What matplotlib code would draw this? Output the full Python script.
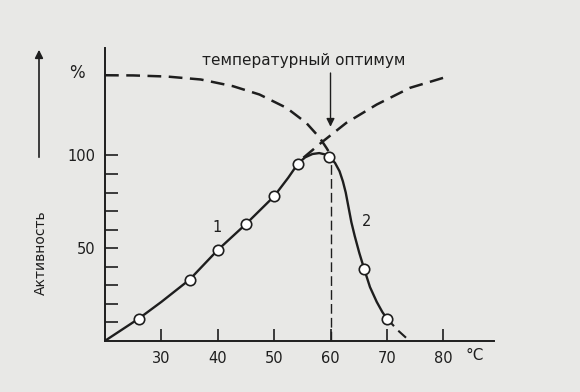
import matplotlib
matplotlib.use("Agg")
import matplotlib.pyplot as plt

# measured points (temperature, activity)
point_t = [26, 35, 40, 45, 50, 54.2, 59.8, 66, 70]
point_a = [12, 33, 49, 63, 78, 95.5, 99.2, 38.5, 12]

# solid activity curve
curve_t = [20, 26, 30, 35, 40, 45, 50, 52.5, 54.2, 55.5, 56.8, 58.0, 59.0, 59.8,
           60.8, 61.6, 62.2, 62.7, 63.2, 63.7, 64.3, 65.1, 66, 67, 68.2, 69.2, 70]
curve_a = [0, 12, 21, 33, 49, 63, 78, 88, 95.5, 99, 100.8, 101.3, 100.6, 99.2,
           96, 91.5, 86, 80, 72, 64, 56.5, 47.5, 38.5, 29, 21, 15.5, 12]

# dashed extension to the axis
tail_t = [70, 72, 74]
tail_a = [12, 5.5, 0]

# dashed curve falling with temperature
fall_t = [20, 25, 31, 37, 42.7, 47.4, 52.2, 55.7, 58.1, 59.3, 60.0]
fall_a = [143.3, 143.2, 142.6, 141, 137.4, 132.9, 125.7, 117.6, 109.5, 104, 100.5]

# dashed curve rising with temperature
rise_t = [55.2, 58.4, 62.8, 68.2, 74.1, 80]
rise_a = [98.8, 107, 117.6, 127.5, 136.5, 141.9]

x_ticks = [30, 40, 50, 60, 70, 80]
y_ticks = [10, 20, 30, 40, 50, 60, 70, 80, 90, 100]
y_labels = ["", "", "", "", "50", "", "", "", "", "100"]

optimum_t = 60
ink = "#1e1e1e"
paper = "#e8e8e6"

fig = plt.figure(figsize=(5.8, 3.92), dpi=100, facecolor=paper)
ax = fig.add_axes([105 / 580, (392 - 340.8) / 392, 389 / 580, 292.8 / 392])
ax.set_facecolor(paper)
ax.set_xlim(20, 89)
ax.set_ylim(0, 158)

for side in ["top", "right"]:
    ax.spines[side].set_visible(False)
for side in ["left", "bottom"]:
    ax.spines[side].set_linewidth(1.4)
    ax.spines[side].set_color(ink)

ax.set_xticks(x_ticks)
ax.set_yticks(y_ticks)
ax.set_yticklabels(y_labels)
ax.tick_params(direction="in", length=9, width=1.2, color=ink,
               labelsize=10.5, labelcolor=ink, pad=7)

ax.plot(curve_t, curve_a, color=ink, lw=1.7, solid_capstyle="round", solid_joinstyle="round")
ax.plot(tail_t, tail_a, color=ink, lw=1.5, dashes=(5, 3))
ax.plot(fall_t, fall_a, color=ink, lw=1.8, dashes=(5.5, 3))
ax.plot(rise_t, rise_a, color=ink, lw=1.8, dashes=(5.5, 3))
ax.plot([optimum_t, optimum_t], [0, 96.5], color=ink, lw=1.0, dashes=(7, 3))
ax.plot(point_t, point_a, "o", ms=7.5, mfc="white", mec=ink, mew=1.2, zorder=5)

ax.annotate("", xy=(optimum_t, 114), xytext=(optimum_t, 146),
            arrowprops=dict(arrowstyle="-|>", color=ink, lw=1.0, mutation_scale=12))
ax.text(55.3, 151.5, "температурный оптимум", ha="center", va="center",
        fontsize=11, color=ink)
ax.text(39.8, 61, "1", ha="center", va="center", fontsize=10.5, color=ink)
ax.text(66.4, 64.4, "2", ha="center", va="center", fontsize=10.5, color=ink)

fig.text(77 / 580, 1 - 73 / 392, "%", ha="center", va="center", fontsize=12, color=ink)
fig.text(475 / 580, 1 - 356 / 392, "°C", ha="center", va="center", fontsize=11, color=ink)
fig.text(41 / 580, 1 - 253 / 392, "Активность", rotation=90, ha="center", va="center",
         fontsize=10, color=ink)
fig.add_artist(matplotlib.patches.FancyArrowPatch(
    (39 / 580, 1 - 160 / 392), (39 / 580, 1 - 47 / 392), transform=fig.transFigure,
    arrowstyle="-|>", mutation_scale=12, lw=1.2, color=ink))

fig.savefig("out.png", dpi=100, facecolor=paper)
